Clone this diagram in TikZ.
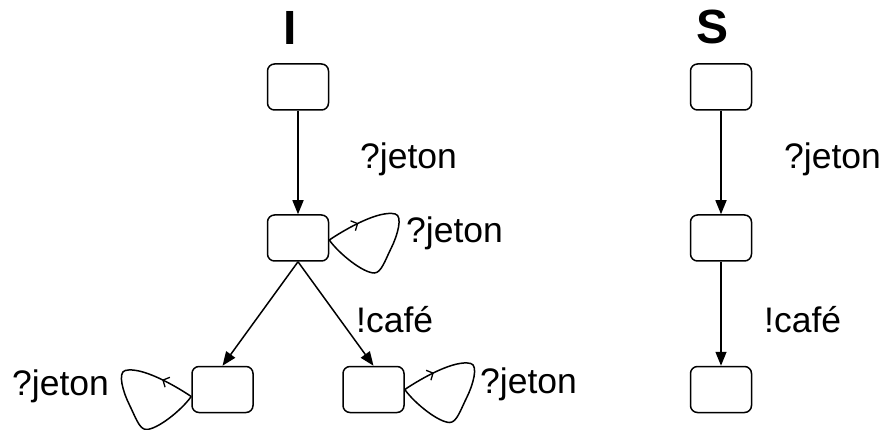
\documentclass[tikz,border=0pt]{standalone}
\usepackage{fontspec}
\setmainfont{Liberation Sans}
\usetikzlibrary{arrows.meta,decorations.markings}
\tikzset{
  state/.style={draw, line width=1.5pt, rounded corners=7pt, minimum width=61pt, minimum height=46pt, inner sep=0pt},
  trans/.style={line width=1.5pt, -{Triangle[length=14pt,width=11pt]}},
  selfloop/.style={line width=1.5pt, postaction={decorate},
    decoration={markings, mark=at position 0.17 with {\arrow{Straight Barb[length=5pt,width=11pt,line width=1.3pt]}}}},
  lbl/.style={anchor=base west, inner sep=0pt, font=\fontsize{35.5}{42}\selectfont},
  title/.style={anchor=base, inner sep=0pt, font=\fontsize{48}{56}\selectfont\bfseries}
}
\newcommand{\looppath}{(0,0) .. controls (18,-12) and (50,-30) .. (66,-26) .. controls (74,-24) and (68,-4) .. (62,8) .. controls (56,20) and (52,33) .. (45,33) .. controls (34,33) and (10,14) .. (0,0)}
\begin{document}
\begin{tikzpicture}[x=1pt,y=-1pt]
\useasboundingbox (0,0) rectangle (889,430);
% titles
\node[title] (tI) at (290,45) {I};
\node[title] (tS) at (712,44) {S};
% I automaton
\node[state] (I0) at (298,87) {};
\node[state] (I1) at (298,238) {};
\node[state] (I2) at (222.5,389.5) {};
\node[state] (I3) at (373.5,389.5) {};
\draw[trans] (I0.south) -- (I1.north);
\draw[trans] (I1.south) -- (I2.north);
\draw[trans] (I1.south) -- (I3.north);
\begin{scope}[shift={([yshift=-2pt]I1.east)}]
  \draw[selfloop] \looppath;
\end{scope}
\begin{scope}[shift={([yshift=-7pt]I2.west)}, xscale=-1]
  \draw[selfloop] \looppath;
\end{scope}
\begin{scope}[shift={(I3.east)}]
  \draw[selfloop] \looppath;
\end{scope}
\node[lbl] (l1) at (360,169) {?jeton};
\node[lbl] (l2) at (406,243) {?jeton};
\node[lbl] (l3) at (356,333) {!café};
\node[lbl] (l4) at (12,395) {?jeton};
\node[lbl] (l5) at (480,393) {?jeton};
% S automaton
\node[state] (S0) at (721,87) {};
\node[state] (S1) at (721,238) {};
\node[state] (S2) at (721,389.5) {};
\draw[trans] (S0.south) -- (S1.north);
\draw[trans] (S1.south) -- (S2.north);
\node[lbl] (s1) at (784,169) {?jeton};
\node[lbl] (s2) at (764,333) {!café};
\end{tikzpicture}
\end{document}
